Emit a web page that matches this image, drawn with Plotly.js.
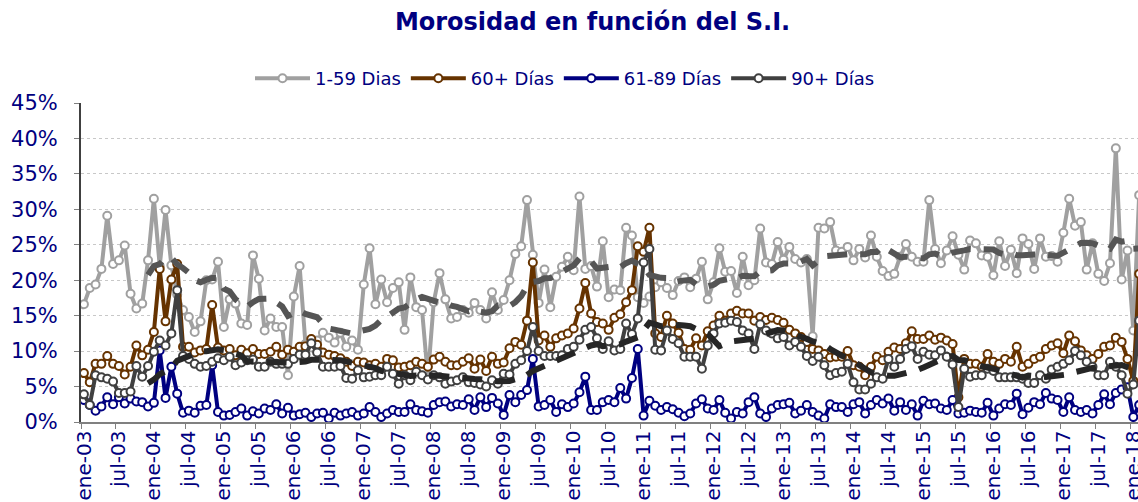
<!DOCTYPE html>
<html>
<head>
<meta charset="utf-8">
<script src="https://cdn.plot.ly/plotly-3.0.1.min.js"></script>
<style>html,body{margin:0;padding:0;background:#fff;}#chart{width:1138px;height:502px;}</style>
</head>
<body>
<div id="chart"></div>
<script>
// Monthly series, ene-03 ... feb-18 (values in %)
var dias1_59 = [
  16.6, 18.9, 19.4, 21.6, 29.1, 22.3, 22.8, 24.9, 18.1, 16.0, 16.7, 22.8,
  31.5, 22.0, 29.9, 22.1, 18.0, 15.8, 14.8, 12.7, 14.2, 20.0, 20.1, 22.6,
  13.4, 17.3, 16.7, 13.9, 13.7, 23.5, 20.2, 12.9, 14.6, 13.4, 13.4, 6.6,
  17.7, 22.0, 11.0, 10.5, 11.5, 12.6, 11.9, 11.2, 12.6, 10.6, 11.5, 10.2,
  19.4, 24.5, 16.6, 20.1, 16.9, 18.9, 19.7, 13.0, 20.4, 16.2, 15.8, 6.3,
  16.9, 21.0, 17.3, 14.6, 14.8, 15.8, 15.4, 16.8, 15.8, 14.6, 18.3, 15.8,
  17.2, 20.0, 23.7, 24.8, 31.3, 23.6, 16.8, 21.5, 16.2, 20.5, 21.9, 23.3,
  21.4, 31.8, 21.6, 22.0, 19.1, 25.5, 17.6, 18.7, 18.6, 27.4, 26.3, 17.6,
  16.8, 17.7, 19.0, 19.7, 18.9, 17.9, 19.9, 20.4, 19.0, 20.2, 22.6, 17.3,
  19.7, 24.5, 21.2, 21.3, 18.2, 23.3, 19.3, 20.0, 27.3, 22.5, 22.3, 25.4,
  22.9, 24.7, 23.0, 22.5, 23.0, 12.1, 27.4, 27.3, 28.2, 24.2, 24.0, 24.7,
  22.8, 24.4, 23.2, 26.3, 23.3, 21.3, 20.6, 20.9, 23.3, 25.1, 23.3, 22.6,
  22.6, 31.3, 24.4, 22.4, 24.2, 26.2, 23.6, 21.5, 25.6, 25.2, 23.5, 23.3,
  20.7, 25.5, 22.0, 24.3, 21.0, 25.9, 25.1, 21.6, 25.9, 23.3, 23.4, 22.6,
  26.7, 31.5, 27.7, 28.2, 21.5, 25.2, 20.9, 19.9, 22.4, 38.6, 20.1, 24.2,
  12.9, 32.0
];
var dias60mas = [
  6.9, 5.6, 8.2, 8.2, 9.3, 8.2, 7.9, 6.7, 7.8, 10.8, 9.4, 10.2,
  12.7, 21.6, 14.2, 20.1, 22.3, 10.6, 10.6, 9.8, 10.1, 10.3, 16.5, 10.5,
  10.1, 10.3, 9.4, 10.2, 9.7, 10.3, 9.6, 9.6, 9.9, 10.6, 9.5, 10.2,
  9.9, 10.6, 10.7, 11.7, 10.9, 9.8, 9.5, 9.3, 9.0, 8.5, 7.9, 8.5,
  8.4, 8.0, 8.2, 7.8, 8.9, 8.7, 7.7, 7.8, 8.0, 8.5, 8.2, 7.8,
  8.8, 9.2, 8.5, 8.0, 8.0, 8.5, 9.0, 7.5, 8.8, 7.2, 9.2, 8.2,
  8.4, 10.4, 11.3, 10.9, 14.3, 22.5, 11.5, 12.2, 10.6, 11.8, 12.2, 12.5,
  13.2, 16.0, 19.6, 15.3, 14.1, 13.9, 13.0, 14.7, 15.2, 16.9, 18.6, 24.8,
  24.0, 27.4, 12.5, 12.0, 15.0, 13.9, 12.6, 10.3, 10.2, 11.8, 10.8, 12.8,
  13.6, 15.0, 14.3, 15.3, 15.7, 15.3, 15.3, 14.3, 14.8, 14.4, 14.7, 14.4,
  14.0, 13.0, 12.5, 12.0, 11.3, 10.3, 10.1, 9.6, 9.1, 9.2, 9.2, 10.0,
  8.0, 7.8, 6.6, 7.8, 9.2, 8.7, 9.9, 10.5, 10.3, 11.1, 12.8, 11.7,
  11.7, 12.2, 11.6, 11.9, 11.5, 11.0, 3.5, 8.9, 8.2, 8.2, 7.8, 9.6,
  8.5, 8.2, 8.9, 8.5, 10.6, 7.8, 8.2, 8.9, 9.2, 10.3, 10.8, 11.1,
  9.7, 12.2, 11.4, 10.1, 9.4, 8.9, 9.6, 10.6, 10.8, 11.9, 11.3, 8.9,
  5.8, 20.9
];
var dias61_89 = [
  3.1, 2.4, 1.6, 2.2, 3.5, 2.5, 3.5, 2.6, 3.3, 2.9, 2.8, 2.2,
  2.7, 10.1, 3.4, 7.8, 4.0, 1.3, 1.6, 1.3, 2.3, 2.4, 8.0, 1.4,
  0.9, 1.0, 1.4, 1.9, 0.9, 1.5, 1.2, 1.9, 1.7, 2.5, 1.2, 2.0,
  0.9, 1.1, 1.3, 0.7, 1.2, 1.3, 0.5, 1.3, 0.9, 1.2, 1.4, 0.9,
  1.2, 2.1, 1.4, 0.7, 1.2, 1.7, 1.4, 1.4, 2.5, 1.7, 1.5, 1.3,
  2.4, 2.8, 2.9, 2.2, 2.5, 2.4, 3.2, 1.7, 3.5, 2.1, 3.4, 2.6,
  1.0, 3.8, 2.8, 3.8, 4.5, 8.9, 2.2, 2.4, 3.1, 1.4, 2.5, 2.1,
  2.6, 4.2, 6.4, 1.7, 1.7, 2.8, 3.1, 2.8, 4.8, 3.3, 6.2, 10.3,
  0.9, 3.0, 2.3, 1.7, 2.1, 1.8, 1.3, 0.8, 1.2, 2.6, 3.2, 1.9,
  1.7, 3.1, 1.3, 0.5, 1.4, 1.2, 2.8, 3.5, 1.2, 0.7, 1.9, 2.4,
  2.5, 2.7, 1.2, 1.6, 2.4, 1.4, 0.9, 0.5, 2.5, 2.1, 2.1, 1.4,
  2.5, 2.8, 1.2, 2.4, 3.1, 2.6, 3.3, 1.6, 2.8, 1.7, 2.5, 0.9,
  3.0, 2.5, 2.6, 1.9, 1.7, 3.1, 1.2, 1.3, 1.6, 1.4, 1.3, 2.7,
  0.9, 1.9, 2.5, 2.4, 4.0, 1.1, 2.0, 2.8, 2.5, 4.1, 3.3, 3.1,
  1.4, 3.5, 1.7, 1.4, 1.7, 1.2, 2.4, 3.9, 2.5, 4.1, 4.6, 4.9,
  0.7, 2.4
];
var dias90mas = [
  3.9, 2.4, 6.6, 6.3, 6.1, 5.7, 4.1, 4.1, 4.3, 7.9, 6.4, 7.9,
  9.9, 11.5, 10.8, 12.5, 18.6, 9.3, 8.9, 8.2, 7.8, 7.9, 8.5, 9.0,
  8.7, 9.2, 8.0, 8.4, 8.7, 8.8, 7.8, 7.8, 8.5, 8.2, 8.2, 8.2,
  8.9, 9.5, 9.5, 11.1, 9.8, 7.8, 7.8, 7.8, 7.9, 6.2, 6.1, 7.3,
  6.3, 6.4, 6.6, 6.6, 7.8, 6.8, 5.4, 6.6, 5.9, 7.1, 6.6, 6.0,
  6.6, 6.3, 5.4, 5.7, 5.9, 6.3, 5.6, 5.5, 5.3, 5.0, 5.9, 5.4,
  6.8, 6.7, 8.2, 8.7, 10.0, 13.4, 10.0, 9.3, 9.3, 9.3, 9.4, 10.3,
  10.6, 11.6, 13.0, 13.4, 11.8, 10.3, 11.4, 10.1, 10.3, 13.9, 12.4, 14.6,
  22.5, 24.4, 10.2, 10.1, 12.9, 11.7, 11.1, 9.2, 9.2, 9.2, 7.5, 10.8,
  12.5, 13.9, 14.0, 14.3, 14.1, 12.9, 12.5, 10.3, 13.8, 12.9, 12.5, 11.8,
  12.0, 10.8, 11.3, 10.6, 9.3, 8.6, 9.2, 8.0, 6.6, 6.9, 7.1, 8.2,
  5.6, 4.6, 4.6, 5.4, 6.3, 6.1, 8.9, 7.8, 8.9, 10.3, 10.7, 8.9,
  9.9, 9.5, 9.4, 10.1, 9.2, 8.1, 2.1, 7.5, 6.4, 6.6, 6.6, 7.5,
  7.2, 6.3, 6.3, 6.3, 6.3, 6.1, 5.5, 5.5, 6.6, 6.1, 7.4, 7.8,
  8.2, 8.7, 10.0, 9.4, 8.5, 7.8, 6.6, 6.6, 8.5, 7.8, 6.6, 4.0,
  5.3, 14.3
];
var tickLabels = [
  "ene-03","jul-03","ene-04","jul-04","ene-05","jul-05","ene-06","jul-06",
  "ene-07","jul-07","ene-08","jul-08","ene-09","jul-09","ene-10","jul-10",
  "ene-11","jul-11","ene-12","jul-12","ene-13","jul-13","ene-14","jul-14",
  "ene-15","jul-15","ene-16","jul-16","ene-17","jul-17","ene-18"
];
var seriesNames = ["1-59 Dias", "60+ Días", "61-89 Días", "90+ Días"];
var maPeriod = 12;

var FONT = "DejaVu Sans, Verdana, sans-serif";
var NAVY = "#000080";

var months = dias1_59.map(function (_, i) { return i; });
var tickVals = tickLabels.map(function (_, k) { return k * 6 - 0.5; });

function movingAvg(arr, n) {
  return arr.map(function (v, i) {
    if (i < n - 1) return null;
    var s = 0;
    for (var j = i - n + 1; j <= i; j++) s += arr[j];
    return s / n;
  });
}

function series(name, y, color) {
  return {
    type: "scatter", mode: "lines+markers", name: name, x: months, y: y,
    line: { color: color, width: 4 },
    marker: { symbol: "circle", size: 8, color: "#ffffff", line: { color: color, width: 2 } },
    cliponaxis: true
  };
}

var traces = [
  series(seriesNames[0], dias1_59, "#A0A0A0"),
  series(seriesNames[1], dias60mas, "#663300"),
  series(seriesNames[2], dias61_89, "#000080"),
  series(seriesNames[3], dias90mas, "#404040"),
  {
    type: "scatter", mode: "lines", x: months, y: movingAvg(dias1_59, maPeriod),
    line: { color: "#555555", width: 6, dash: "20px,13px" }, showlegend: false, hoverinfo: "skip"
  },
  {
    type: "scatter", mode: "lines", x: months, y: movingAvg(dias90mas, maPeriod),
    line: { color: "#262626", width: 6, dash: "20px,13px" }, showlegend: false, hoverinfo: "skip"
  }
];

var layout = {
  width: 1138, height: 502,
  margin: { l: 81, r: 0, t: 103, b: 80, pad: 0 },
  paper_bgcolor: "#ffffff", plot_bgcolor: "#ffffff",
  font: { family: FONT, color: NAVY },
  title: {
    text: "<b>Morosidad en función del S.I.</b>",
    font: { family: FONT, size: 24, color: NAVY },
    xref: "container", yref: "container", x: 0.5207, xanchor: "center", y: 1 - 22 / 502, yanchor: "middle"
  },
  showlegend: true,
  legend: {
    orientation: "h", xref: "container", yref: "container",
    x: 250 / 1138, xanchor: "left", y: 1 - 60 / 502, yanchor: "top",
    font: { family: FONT, size: 18, color: NAVY },
    itemwidth: 55, bgcolor: "rgba(0,0,0,0)", traceorder: "normal"
  },
  xaxis: {
    range: [-0.5, -0.5 + 1057 / 5.83], autorange: false,
    tickmode: "array", tickvals: tickVals, ticktext: tickLabels,
    tickangle: -90, ticklabelshift: 3, ticklabelstandoff: -6,
    ticklabeloverflow: "allow",
    tickfont: { family: FONT, size: 20, color: NAVY },
    ticks: "outside", ticklen: 5, tickcolor: "#808080", tickwidth: 1,
    showline: true, linecolor: "#808080", linewidth: 1.5,
    showgrid: false, zeroline: false, automargin: false
  },
  yaxis: {
    range: [0, 45], autorange: false, dtick: 5, tick0: 0, ticksuffix: "%",
    tickfont: { family: FONT, size: 21, color: NAVY },
    ticks: "outside", ticklen: 5, tickcolor: "#808080", ticklabelstandoff: 12,
    showline: true, linecolor: "#404040", linewidth: 2,
    showgrid: true, gridcolor: "#C8C8C8", griddash: "dot", gridwidth: 1,
    zeroline: false, automargin: false
  }
};

Plotly.newPlot("chart", traces, layout, { staticPlot: true, displayModeBar: false });
</script>
</body>
</html>
